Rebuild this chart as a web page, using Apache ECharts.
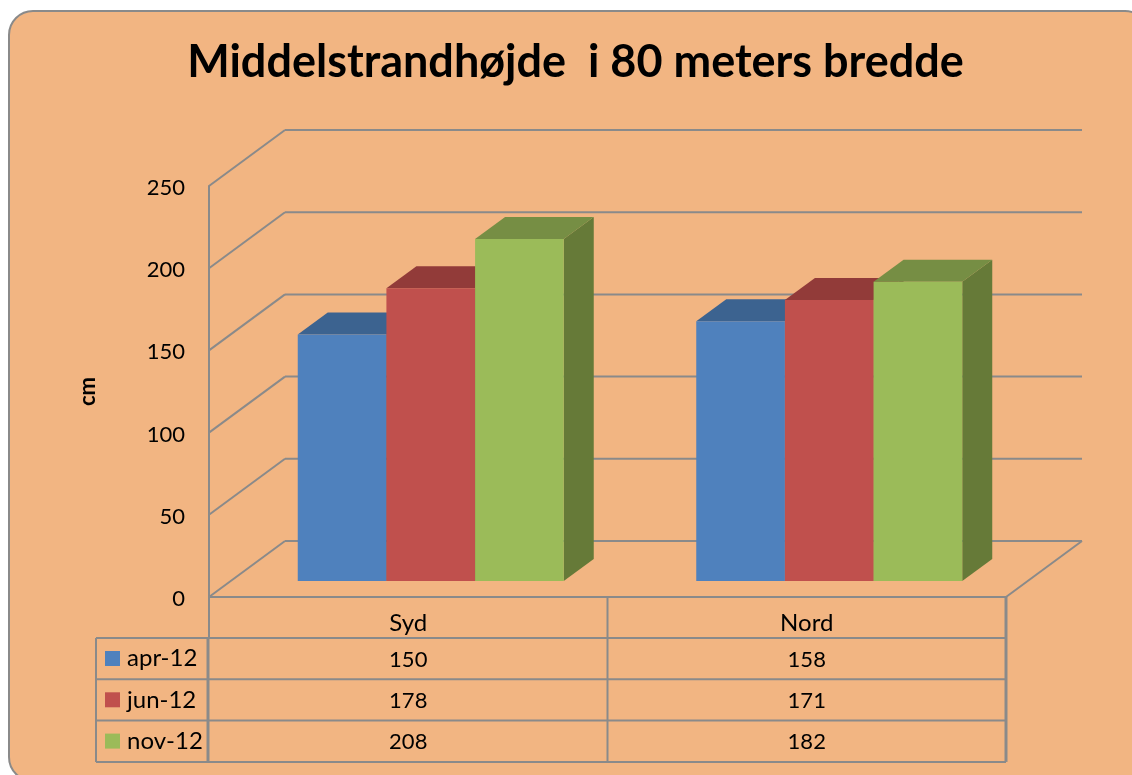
<!DOCTYPE html>
<html>
<head>
<meta charset="utf-8">
<title>Middelstrandhøjde</title>
<script src="https://cdn.jsdelivr.net/npm/echarts@6/dist/echarts.min.js"></script>
<style>
html, body { margin: 0; padding: 0; background: #fff; overflow: hidden; }
#chart { width: 1132px; height: 775px; }
</style>
</head>
<body>
<div id="chart"></div>
<script>
var categories = ['Syd', 'Nord']
var seriesNames = ['apr-12', 'jun-12', 'nov-12']
var apr12 = [150, 158]
var jun12 = [178, 171]
var nov12 = [208, 182]
var yTicks = [0, 50, 100, 150, 200, 250]

var lineColor = '#8a8a8a'
var font = 'Lato, "Open Sans", sans-serif'
var gridBox = { left: 209, top: 186, width: 797, height: 411 }
var wall = { dx: 76, dy: -56 }   // how far the back wall sits behind the axis plane
var barOffset = { dx: 22.5, dy: -16 }   // bars stand a little way in on the floor
var barDepth = { dx: 30, dy: -22 }
var rowTop = 638
var rowHeight = 41.3
var tableLeft = 96

var chart = echarts.init(document.getElementById('chart'))

function wallItem(params, api) {
	var start = api.coord([0, api.value(0)])
	var left = gridBox.left
	var back = [left + wall.dx, start[1] + wall.dy]
	var style = { stroke: lineColor, lineWidth: 2, fill: null }
	var items = [
		{ type: 'line', shape: { x1: left, y1: start[1], x2: back[0], y2: back[1] }, style: style },
		{ type: 'line', shape: { x1: back[0], y1: back[1], x2: left + gridBox.width + wall.dx, y2: back[1] }, style: style },
	]
	if (api.value(0) === 0) {
		items.push({ type: 'line', shape: { x1: left + gridBox.width, y1: start[1], x2: left + gridBox.width + wall.dx, y2: back[1] }, style: style })
	}
	return { type: 'group', children: items }
}

function barRenderer(index, front, top, side) {
	return function (params, api) {
		var cat = api.value(0)
		var band = api.size([1, 0])[0]
		var w = band * 0.2225
		var head = api.coord([cat, api.value(1)])
		var foot = api.coord([cat, 0])
		var x = head[0] + barOffset.dx + (index - 1.5) * w
		var y = head[1] + barOffset.dy
		var bottom = foot[1] + barOffset.dy
		var dx = barDepth.dx
		var dy = barDepth.dy
		return {
			type: 'group',
			children: [
				{ type: 'polygon', shape: { points: [[x + w, y], [x + w + dx, y + dy], [x + w + dx, bottom + dy], [x + w, bottom]] }, style: { fill: side } },
				{ type: 'polygon', shape: { points: [[x, y], [x + dx, y + dy], [x + w + dx, y + dy], [x + w, y]] }, style: { fill: top } },
				{ type: 'rect', shape: { x: x, y: y, width: w, height: bottom - y }, style: { fill: front } },
			],
		}
	}
}

function pairs(values) {
	return values.map(function (v, i) { return [i, v] })
}

// the data table under the plot
function tableGraphics() {
	var right = gridBox.left + gridBox.width
	var axisY = gridBox.top + gridBox.height
	var mid = gridBox.left + gridBox.width / 2
	var lineStyle = { stroke: lineColor, lineWidth: 2 }
	var heavy = { stroke: lineColor, lineWidth: 3 }
	var out = [
		{ type: 'rect', z: -10, shape: { x: 9, y: 11, width: 1140, height: 770, r: 24 }, style: { fill: '#f2b582', stroke: lineColor, lineWidth: 2 } },
		{ type: 'line', shape: { x1: gridBox.left, y1: axisY, x2: gridBox.left, y2: rowTop }, style: lineStyle },
		{ type: 'line', shape: { x1: gridBox.left - 1, y1: rowTop, x2: gridBox.left - 1, y2: rowTop + 3 * rowHeight }, style: heavy },
		{ type: 'line', shape: { x1: mid, y1: axisY, x2: mid, y2: rowTop + 3 * rowHeight }, style: lineStyle },
		{ type: 'line', shape: { x1: right, y1: axisY, x2: right, y2: rowTop + 3 * rowHeight }, style: heavy },
		{ type: 'line', shape: { x1: tableLeft, y1: rowTop, x2: tableLeft, y2: rowTop + 3 * rowHeight }, style: lineStyle },
	]
	var rows = [apr12, jun12, nov12]
	for (var r = 0; r <= 3; r++) {
		var y = rowTop + r * rowHeight
		out.push({ type: 'line', shape: { x1: tableLeft, y1: y, x2: right, y2: y }, style: lineStyle })
	}
	rows.forEach(function (row, r) {
		row.forEach(function (v, c) {
			out.push({
				type: 'text',
				x: gridBox.left + (c + 0.5) * gridBox.width / categories.length,
				y: rowTop + (r + 0.5) * rowHeight + 1,
				style: { text: String(v), fill: '#000', font: '22px ' + font, textAlign: 'center', textVerticalAlign: 'middle' },
			})
		})
	})
	return out
}

var barColors = [
	['#4f81bd', '#3c6390', '#2f4f74'],
	['#c0504d', '#923b39', '#7a3230'],
	['#9bbb59', '#768e44', '#667a38'],
]
var barSeries = [apr12, jun12, nov12].map(function (values, i) {
	return {
		name: seriesNames[i],
		type: 'custom',
		coordinateSystem: 'cartesian2d',
		clip: false,
		z: 3 + i,
		itemStyle: { color: barColors[i][0] },
		encode: { x: 0, y: 1 },
		renderItem: barRenderer(i, barColors[i][0], barColors[i][1], barColors[i][2]),
		data: pairs(values),
	}
})

chart.setOption({
	animation: false,
	backgroundColor: '#fff',
	title: {
		text: 'Middelstrandhøjde  i 80 meters bredde',
		left: 570.5,
		top: 35,
		textAlign: 'center',
		textStyle: { fontFamily: font, fontSize: 45, fontWeight: 'bold', color: '#000' },
	},
	legend: {
		orient: 'vertical',
		left: 105,
		top: 646.5,
		icon: 'rect',
		itemWidth: 15,
		itemHeight: 15,
		itemGap: 17.3,
		selectedMode: false,
		padding: 0,
		data: seriesNames,
		textStyle: { fontFamily: font, fontSize: 24, lineHeight: 24, color: '#000', padding: [0, 0, 0, 2] },
	},
	grid: gridBox,
	xAxis: {
		type: 'category',
		data: categories,
		axisTick: { show: false },
		axisLine: { lineStyle: { color: lineColor, width: 2 } },
		axisLabel: { margin: 14, color: '#000', fontFamily: font, fontSize: 24 },
	},
	yAxis: {
		type: 'value',
		min: 0,
		max: 250,
		interval: 50,
		name: 'cm',
		nameLocation: 'middle',
		nameRotate: 90,
		nameGap: 110,
		nameTextStyle: { fontFamily: font, fontSize: 22, fontWeight: 'bold', color: '#000' },
		splitLine: { show: false },
		axisTick: { show: false },
		axisLine: { show: true, lineStyle: { color: lineColor, width: 2 } },
		axisLabel: { margin: 24, color: '#000', fontFamily: font, fontSize: 22, verticalAlign: 'top', lineHeight: 4 },
	},
	graphic: tableGraphics(),
	series: [
		{
			type: 'custom',
			coordinateSystem: 'cartesian2d',
			clip: false,
			z: 1,
			silent: true,
			encode: { y: 0 },
			renderItem: wallItem,
			data: yTicks.map(function (t) { return [t] }),
		},
	].concat(barSeries),
})
</script>
</body>
</html>
